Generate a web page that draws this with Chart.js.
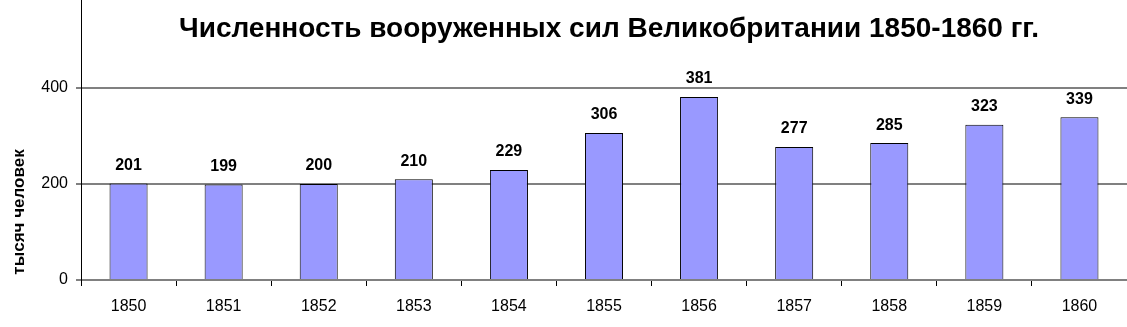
<!DOCTYPE html>
<html>
<head>
<meta charset="utf-8">
<script src="https://cdn.jsdelivr.net/npm/chart.js@4"></script>
<style>
  html, body { margin: 0; padding: 0; background: #fff; }
  #wrap { width: 1127px; height: 327px; }
</style>
</head>
<body>
<div id="wrap"><canvas id="myChart"></canvas></div>
<script>
var years = ["1850", "1851", "1852", "1853", "1854", "1855", "1856", "1857", "1858", "1859", "1860"];
var troops = [201, 199, 200, 210, 229, 306, 381, 277, 285, 323, 339];
var yTicks = [0, 200, 400];
var chartTitle = "Численность вооруженных сил Великобритании 1850-1860 гг.";
var yTitle = "тысяч человек";

// value labels over bars + title + rotated y title
const extraText = {
    id: 'extraText',
    afterDatasetsDraw(chart) {
        const ctx = chart.ctx;
        const meta = chart.getDatasetMeta(0);
        ctx.save();
        ctx.fillStyle = '#000';
        ctx.textAlign = 'center';
        ctx.textBaseline = 'middle';
        ctx.font = 'bold 16px "Liberation Sans", Arial, sans-serif';
        meta.data.forEach((bar, i) => {
            ctx.fillText(troops[i], bar.x, bar.y - 18);
        });

        ctx.font = 'bold 28px "Liberation Sans", Arial, sans-serif';
        ctx.fillText(chartTitle, 609, 29);

        ctx.translate(19, 212);
        ctx.rotate(-Math.PI / 2);
        ctx.font = 'bold 17px "Liberation Sans", Arial, sans-serif';
        ctx.fillText(yTitle, 0, 0);
        ctx.restore();
    }
};

const ctx = document.getElementById('myChart');

new Chart(ctx, {
    type: 'bar',
    data: {
        labels: years,
        datasets: [
            {
                data: troops,
                backgroundColor: '#9999ff',
                borderColor: '#000',
                borderWidth: 1,
                barPercentage: 0.4,
                categoryPercentage: 1.0
            }
        ]
    },
    options: {
        responsive: true,
        maintainAspectRatio: false,
        animation: false,
        layout: { padding: 0 },
        plugins: {
            legend: { display: false },
            title: { display: false },
            tooltip: { enabled: false }
        },
        scales: {
            x: {
                offset: true,
                afterFit: function(scale) {
                    scale.height = 47;
                    scale.paddingLeft = 0;
                    scale.paddingRight = 0;
                },
                grid: {
                    offset: true,
                    drawOnChartArea: false,
                    drawTicks: true,
                    tickLength: 6,
                    color: '#000'
                },
                border: { display: false },
                ticks: {
                    color: '#000',
                    padding: 11,
                    font: { family: '"Liberation Sans", Arial, sans-serif', size: 16 }
                }
            },
            y: {
                min: 0,
                max: 583,
                afterFit: function(scale) {
                    scale.width = 81;
                    scale.paddingTop = 0;
                    scale.paddingBottom = 0;
                },
                afterBuildTicks: function(scale) {
                    scale.ticks = yTicks.map(v => ({ value: v }));
                },
                grid: {
                    color: '#808080',
                    lineWidth: 2,
                    tickLength: 5
                },
                border: { display: true, color: '#000', width: 1 },
                ticks: {
                    color: '#000',
                    padding: 8,
                    font: { family: '"Liberation Sans", Arial, sans-serif', size: 16 }
                }
            }
        }
    },
    plugins: [extraText]
});
</script>
</body>
</html>
